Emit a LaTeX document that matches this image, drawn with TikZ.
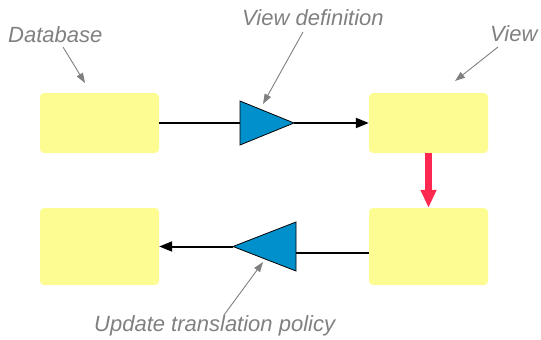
\documentclass[tikz,border=0pt]{standalone}
\usepackage{fontspec}
\setmainfont{Liberation Sans}
\usetikzlibrary{arrows.meta}

\definecolor{boxyellow}{RGB}{253,252,146}
\definecolor{triblue}{RGB}{0,145,204}
\definecolor{linkred}{RGB}{255,40,80}
\definecolor{notegray}{RGB}{128,128,128}

\begin{document}
\begin{tikzpicture}[x=1pt,y=-1pt,
  box/.style={fill=boxyellow, rounded corners=4pt, minimum width=119pt, inner sep=0pt, draw=none},
  tri/.style={fill=triblue, draw=black, line width=0.8pt, line join=miter},
  plain/.style={draw=black, line width=2pt},
  flow/.style={plain, -{Triangle[length=13pt,width=10pt]}},
  note/.style={font=\fontsize{22}{26}\selectfont\itshape, text=notegray, inner sep=0pt, anchor=base west},
  pointer/.style={draw=notegray, line width=0.9pt, -{Triangle[length=10pt,width=7pt]}},
  ]
\useasboundingbox (0,0) rectangle (541,340);

% the four relations
\node[box, minimum height=60pt] (db)      at (99.5,123)   {};
\node[box, minimum height=60pt] (view)    at (428.5,123)  {};
\node[box, minimum height=77pt] (dbout)   at (99.5,246.5) {};
\node[box, minimum height=77pt] (viewout) at (428.5,246.5){};

% view definition (forward) and update translation (backward)
\coordinate (defin)  at (240,123);
\coordinate (defout) at (294,123);
\draw[tri] (240,101) -- (240,145) -- (defout) -- cycle;

\coordinate (updin)  at (296,253);
\coordinate (updout) at (233,246.5);
\draw[tri] (296,222) -- (296,271) -- (updout) -- cycle;

% data flow
\draw[plain] (db.east) -- (defin);
\draw[flow] (defout) -- (view.west);
\coordinate (updsrc) at ([yshift=-6.5pt]viewout.west);
\draw[plain] (updsrc) -- (updin);
\draw[flow] (updout) -- (dbout.east);

% update on the view
\draw[linkred, line width=6.5pt, -{Triangle[length=18pt,width=15pt]}] (view.south) -- (viewout.north);

% annotations
\node[note] (dblabel)   at (8,42)   {Database};
\node[note] (deflabel)  at (242,25) {View definition};
\node[note] (viewlabel) at (490,41) {View};
\node[note] (updlabel)  at (94,331) {Update translation policy};

\coordinate (dbtail)   at (63,47);   \coordinate (dbtip)   at (85,83);
\coordinate (deftail)  at (303,32);  \coordinate (deftip)  at (263,104);
\coordinate (viewtail) at (498,47);  \coordinate (viewtip) at (455,81);
\coordinate (updtail)  at (224,315); \coordinate (updtip)  at (263,262);

\draw[pointer] (dbtail) -- (dbtip);
\draw[pointer] (deftail) -- (deftip);
\draw[pointer] (viewtail) -- (viewtip);
\draw[pointer] (updtail) -- (updtip);
\end{tikzpicture}
\end{document}
